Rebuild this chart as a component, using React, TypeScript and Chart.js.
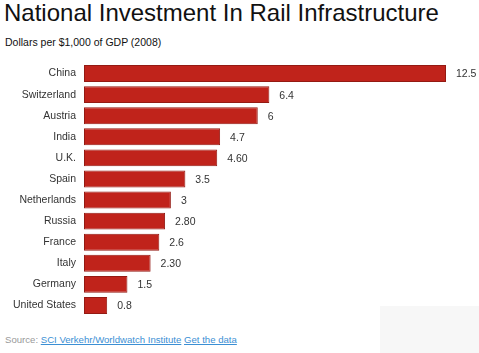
import React, { useEffect, useRef } from "react";
import { Chart, registerables } from "chart.js";

Chart.register(...registerables);

const countries = ["China", "Switzerland", "Austria", "India", "U.K.", "Spain", "Netherlands", "Russia", "France", "Italy", "Germany", "United States"];
const values = [12.5, 6.4, 6, 4.7, 4.6, 3.5, 3, 2.8, 2.6, 2.3, 1.5, 0.8];
const valueLabels = ["12.5", "6.4", "6", "4.7", "4.60", "3.5", "3", "2.80", "2.6", "2.30", "1.5", "0.8"];

const FONT = "'Liberation Sans', Arial, sans-serif";

const valueLabelPlugin = {
  id: "valueLabels",
  afterDatasetsDraw(chart: any) {
    const ctx = chart.ctx;
    const meta = chart.getDatasetMeta(0);
    ctx.save();
    ctx.font = `10.5px ${FONT}`;
    ctx.fillStyle = "#333";
    ctx.textBaseline = "middle";
    ctx.textAlign = "left";
    meta.data.forEach((bar: any, i: number) => {
      ctx.fillText(valueLabels[i], bar.x + 10, bar.y + 1);
    });
    ctx.restore();
  },
};

export default function App() {
  const ref = useRef<HTMLCanvasElement>(null);
  useEffect(() => {
    if (!ref.current) return;
    const chart = new Chart(ref.current, {
      type: "bar",
      data: {
        labels: countries,
        datasets: [
          {
            data: values,
            backgroundColor: "#c0231b",
            borderColor: "#941a13",
            borderWidth: 1,
            borderSkipped: false,
            categoryPercentage: 1,
            barPercentage: 0.8,
          },
        ],
      },
      options: {
        indexAxis: "y",
        animation: false,
        responsive: false,
        maintainAspectRatio: false,
        layout: { padding: { left: 0, right: 18.5, top: 0, bottom: 0 } },
        plugins: { legend: { display: false }, tooltip: { enabled: false } },
        scales: {
          x: { display: false, min: 0, max: 13 },
          y: {
            grid: { display: false, drawTicks: false },
            border: { display: false },
            ticks: { padding: 8, color: "#333", font: { family: FONT, size: 10.5 } },
            afterFit: (scale: any) => {
              scale.width = 84;
              scale.paddingTop = 0;
              scale.paddingBottom = 0;
            },
          },
        },
      },
      plugins: [valueLabelPlugin],
    });
    return () => chart.destroy();
  }, []);

  return (
    <div style={{ position: "fixed", left: 0, top: 0, width: 479, height: 353, background: "#fff", fontFamily: FONT, overflow: "hidden" }}>
      <div style={{ position: "absolute", left: 380, top: 306, width: 99, height: 47, background: "#f7f7f7" }} />
      <div style={{ position: "absolute", left: 4, top: -1, fontSize: 24, color: "#111", whiteSpace: "nowrap" }}>
        National Investment In Rail Infrastructure
      </div>
      <div style={{ position: "absolute", left: 5, top: 36, fontSize: 10.5, color: "#111", whiteSpace: "nowrap" }}>
        Dollars per $1,000 of GDP (2008)
      </div>
      <canvas ref={ref} width={479} height={253} style={{ position: "absolute", left: 0, top: 63, width: 479, height: 253 }} />
      <div style={{ position: "absolute", left: 5, top: 334, fontSize: 9.6, color: "#999", whiteSpace: "nowrap" }}>
        Source:{" "}
        <span style={{ color: "#3b8fd4", textDecoration: "underline" }}>SCI Verkehr/Worldwatch Institute</span>{" "}
        <span style={{ color: "#3b8fd4", textDecoration: "underline" }}>Get the data</span>
      </div>
    </div>
  );
}
